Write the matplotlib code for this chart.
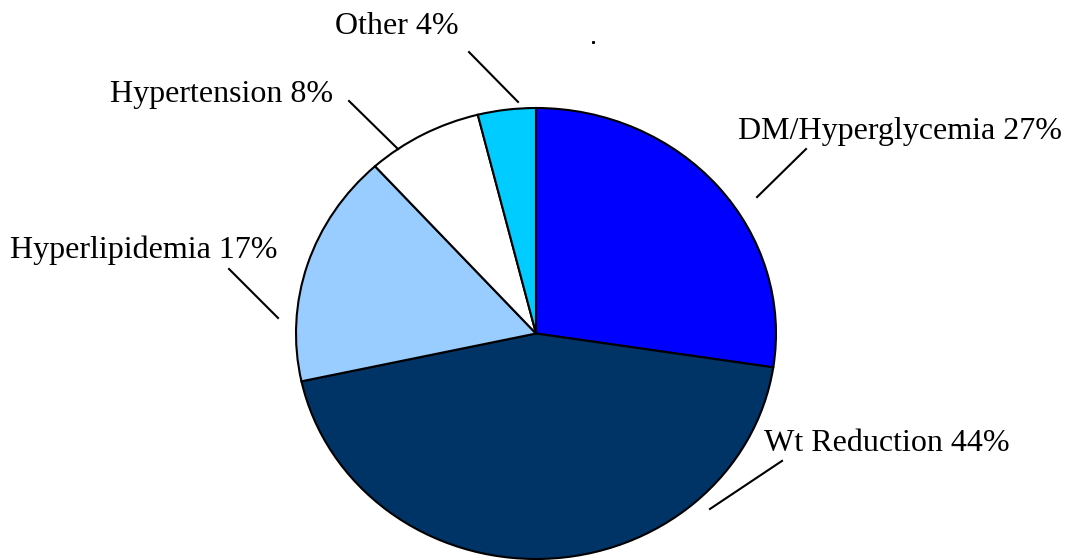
import matplotlib
matplotlib.use("Agg")
import matplotlib.pyplot as plt

labels = ["DM/Hyperglycemia", "Wt Reduction", "Hyperlipidemia", "Hypertension", "Other"]
shares = [27.4, 44.2, 16.7, 7.8, 3.9]
pct_labels = ["27%", "44%", "17%", "8%", "4%"]
colors = ["#0000FF", "#003366", "#99CCFF", "#FFFFFF", "#00CCFF"]

# label anchor (data coords of the pie axes, radius 1) and alignment
label_pos = [(0.84, 0.895, "left"), (0.95, -0.49, "left"), (-2.19, 0.37, "left"),
             (-1.31, 1.062, "center"), (-0.579, 1.362, "center")]
# leader lines: (outer end, inner end)
leaders = [((1.125, 0.818), (0.921, 0.605)),
           ((1.025, -0.565), (0.725, -0.778)),
           ((-1.279, 0.286), (-1.075, 0.069)),
           ((-0.779, 1.031), (-0.575, 0.818)),
           ((-0.279, 1.248), (-0.075, 1.027))]

plt.rcParams["font.family"] = ["Liberation Serif", "DejaVu Serif"]

W, H = 1068, 560
fig = plt.figure(figsize=(W / 100, H / 100), dpi=100)
ax = fig.add_axes([296 / W, 1 / H, 480 / W, 451 / H])

ax.pie(shares, colors=colors, startangle=90, counterclock=False,
       wedgeprops=dict(edgecolor="black", linewidth=1.5))
ax.set_aspect("auto")
ax.set_xlim(-1.0, 1.0)
ax.set_ylim(-1.0, 1.0)
ax.axis("off")

for lab, pct, (x, y, ha), (p0, p1) in zip(labels, pct_labels, label_pos, leaders):
    ax.text(x, y, f"{lab} {pct}", ha=ha, va="center", fontsize=23, clip_on=False)
    ax.plot([p0[0], p1[0]], [p0[1], p1[1]], color="black", linewidth=1.5, clip_on=False)

# stray speck in the original
ax.plot([0.2375], [1.293], marker="s", markersize=1.2, color="black", clip_on=False)

fig.savefig("out.png", dpi=100)
